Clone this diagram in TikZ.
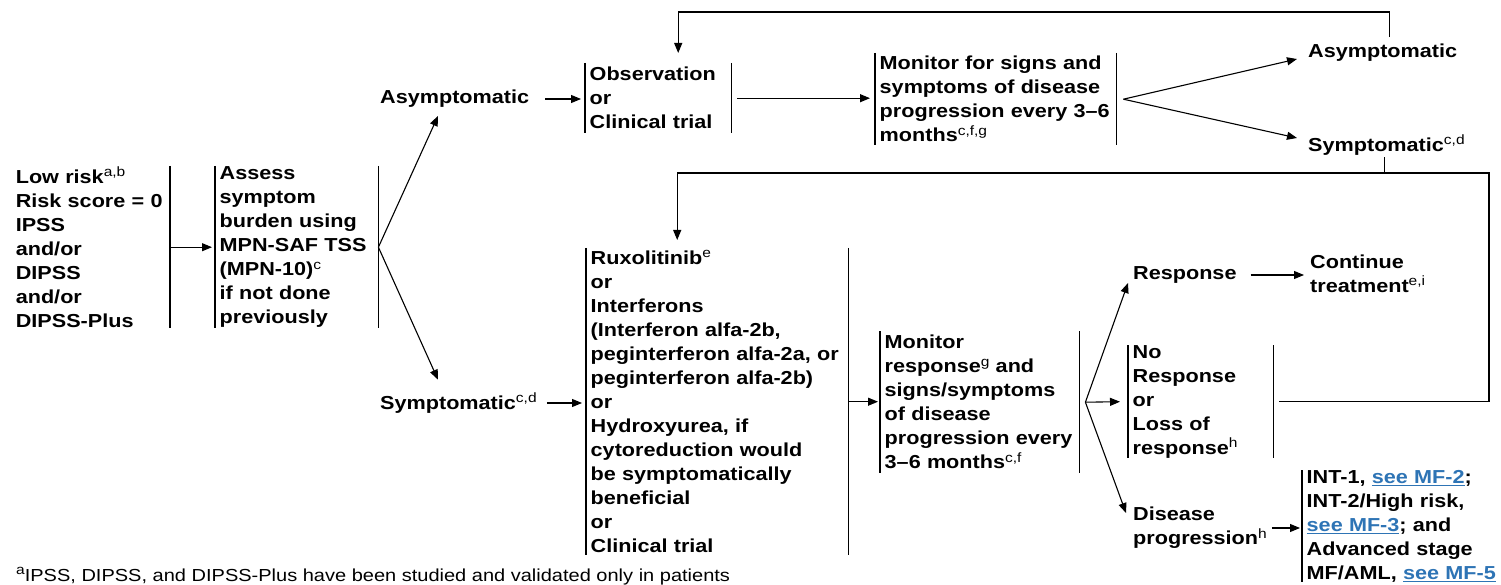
\documentclass[tikz,border=0pt]{standalone}
\usepackage{fontspec}
\setmainfont{Liberation Sans}[FakeStretch=1.15]
\usetikzlibrary{arrows.meta}

\definecolor{linkblue}{RGB}{46,116,181}
\newcommand{\sups}[1]{\raisebox{6.5pt}{\fontsize{13.5}{13.5}\selectfont\mdseries #1}}
\newcommand{\mflink}[1]{\textcolor{linkblue}{\underline{#1}}}

\tikzset{
  txt/.style={font=\fontsize{18.8}{24}\selectfont\bfseries, align=left, inner sep=2pt},
  barbox/.style={txt, anchor=north west, inner xsep=4.5pt, inner ysep=0pt},
  lbar/.style={append after command={(\tikzlastnode.north west) edge (\tikzlastnode.south west)}},
  rbar/.style={append after command={(\tikzlastnode.north east) edge (\tikzlastnode.south east)}},
  arr/.style={-{Triangle[length=10pt,width=8pt]}, line width=1.1pt},
}

\begin{document}
\begin{tikzpicture}[x=1pt, y=-1pt, every edge/.append style={line width=1.2pt}]
    \useasboundingbox (0,0) rectangle (1501,585);

    % first column
    \node[barbox, rbar, anchor=north east, text width=149.5pt, minimum height=162pt] (risk) at (170,166)
        {Low risk\sups{a,b}\\Risk score = 0\\IPSS\\and/or\\DIPSS\\and/or\\DIPSS-Plus};
    \node[barbox, lbar, rbar, text width=154pt, minimum height=162pt] (assess) at (215,166)
        {Assess\\symptom\\burden using\\MPN-SAF TSS\\(MPN-10)\sups{c}\\if not done\\previously};

    \node[txt, anchor=west] (asym1) at (378,99) {Asymptomatic};
    \node[txt, anchor=west] (sym1) at (378,403) {Symptomatic\sups{c,d}};

    % upper branch
    \node[barbox, lbar, rbar, text width=137pt, minimum height=70pt] (obs) at (585,63)
        {Observation\\or\\Clinical trial};
    \node[barbox, lbar, rbar, text width=232pt, minimum height=92pt] (mon1) at (875,53)
        {Monitor for signs and\\symptoms of disease\\progression every 3--6\\months\sups{c,f,g}};
    \node[txt, anchor=west] (asym2) at (1306,53) {Asymptomatic};
    \node[txt, anchor=west] (sym2) at (1306,145) {Symptomatic\sups{c,d}};

    % lower branch
    \node[barbox, lbar, rbar, text width=253pt, minimum height=307pt] (rux) at (586,248)
        {Ruxolitinib\sups{e}\\or\\Interferons\\(Interferon alfa-2b,\\peginterferon alfa-2a, or\\peginterferon alfa-2b)\\or\\Hydroxyurea, if\\cytoreduction would\\be symptomatically\\beneficial\\or\\Clinical trial};
    \node[barbox, lbar, rbar, text width=190pt, minimum height=142pt] (monr) at (880,331)
        {Monitor\\response\sups{g} and\\signs/symptoms\\of disease\\progression every\\3--6 months\sups{c,f}};
    \node[txt, anchor=west] (resp) at (1131,275) {Response};
    \node[txt, anchor=west] (cont) at (1308,273.5) {Continue\\treatment\sups{e,i}};
    \node[barbox, lbar, rbar, text width=136pt, minimum height=113pt] (nores) at (1128,345)
        {No\\Response\\or\\Loss of\\response\sups{h}};
    \node[txt, anchor=west] (disprog) at (1131,528) {Disease\\progression\sups{h}};
    \node[barbox, lbar, text width=200pt, minimum height=112pt] (intbox) at (1302,470)
        {INT-1, \mflink{see MF-2};\\INT-2/High risk,\\\mflink{see MF-3}; and\\Advanced stage\\MF/AML, \mflink{see MF-5}};

    \node[font=\fontsize{17.4}{20}\selectfont, anchor=west, inner sep=0pt] (fnote) at (16,576)
        {\sups{a}IPSS, DIPSS, and DIPSS-Plus have been studied and validated only in patients};

    \coordinate (cornerR) at (1489,173);

    % connectors
    \draw[arr, shorten >=3pt] (risk.east) -- (assess.west);
    \draw[arr] (assess.east) -- ([xshift=60pt,yshift=-6pt]asym1.south west);
    \draw[arr] (assess.east) -- ([xshift=60pt,yshift=11pt]sym1.north west);
    \draw[arr, shorten >=4pt] ([xshift=14pt]asym1.east) -- (asym1.east -| obs.west);
    \draw[arr, shorten >=5pt] ([xshift=6pt]obs.east) -- (obs.east -| mon1.west);
    \draw[arr] ([xshift=7pt]mon1.east) -- ([xshift=-9pt,yshift=-6pt]asym2.west);
    \draw[arr] ([xshift=7pt]mon1.east) -- ([xshift=-9pt,yshift=7pt]sym2.west);
    \draw[arr] ([xshift=7pt,yshift=5pt]asym2.north) |- ([xshift=20pt,yshift=51pt]obs.north)
        -- ([xshift=20pt,yshift=10pt]obs.north);
    \draw[arr] ([xshift=-2pt]sym2.south) |- ([xshift=-40pt,yshift=75pt]rux.north)
        -- ([xshift=-40pt,yshift=8pt]rux.north);
    \draw[line width=1.1pt] ([xshift=6pt]nores.east) -| (cornerR) -- ([xshift=-2pt]sym2.south |- cornerR);

    \draw[arr, shorten >=4pt] ([xshift=8pt]sym1.east) -- (sym1.east -| rux.west);
    \draw[arr, shorten >=2pt] (rux.east) -- (rux.east -| monr.west);
    \draw[arr] ([xshift=6pt]monr.east) -- ([xshift=-3pt,yshift=-8pt]resp.west);
    \draw[arr] ([xshift=6pt]monr.east) -- ([xshift=-8pt]nores.west);
    \draw[arr] ([xshift=6pt]monr.east) -- ([xshift=-5pt,yshift=15pt]disprog.west);
    \draw[arr, shorten >=4pt] ([xshift=12pt]resp.east) -- (resp.east -| cont.west);
    \draw[arr, shorten >=2pt] ([xshift=3pt]disprog.east) -- (disprog.east -| intbox.west);
\end{tikzpicture}
\end{document}
